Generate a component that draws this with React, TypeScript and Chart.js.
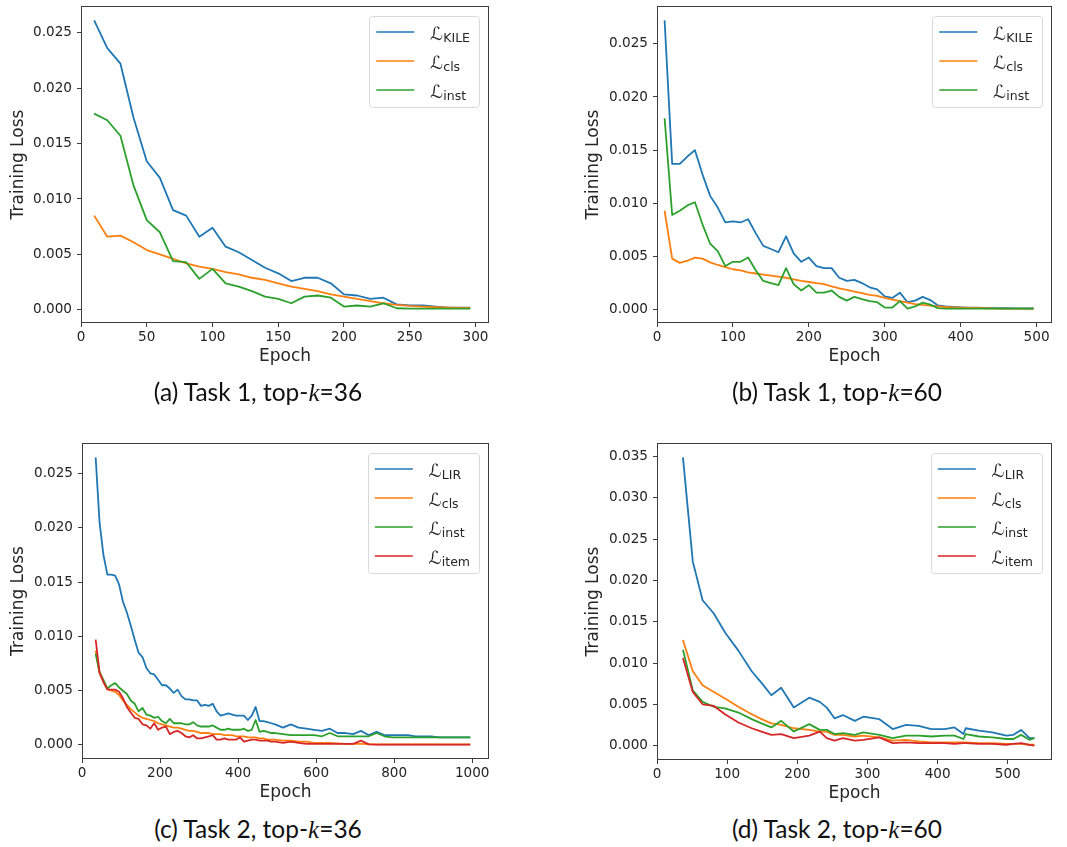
import React, { useEffect, useRef } from 'react';
import { Chart, registerables } from 'chart.js';

Chart.register(...registerables);

// ---------------- data ----------------
const A_EPOCHS = [10, 20, 30, 40, 50, 60, 70, 80, 90, 100, 110, 120, 130, 140, 150, 160, 170, 180, 190, 200, 210, 220, 230, 240, 250, 260, 270, 280, 290, 296];
const A_KILE = [0.0261, 0.0236, 0.0222, 0.0173, 0.0134, 0.0119, 0.0090, 0.0085, 0.0066, 0.0074, 0.0057, 0.0052, 0.0045, 0.0038, 0.0033, 0.0026, 0.0029, 0.0029, 0.0024, 0.0014, 0.0013, 0.0010, 0.0011, 0.0005, 0.0004, 0.0004, 0.0003, 0.0002, 0.0002, 0.0002];
const A_CLS = [0.0085, 0.0066, 0.0067, 0.0061, 0.0054, 0.0050, 0.0046, 0.0042, 0.0039, 0.0037, 0.0034, 0.0032, 0.0029, 0.0027, 0.0024, 0.0021, 0.0019, 0.0017, 0.0014, 0.0012, 0.0010, 0.0008, 0.0006, 0.00045, 0.00036, 0.0003, 0.00024, 0.0002, 0.00018, 0.00018];
const A_INST = [0.0177, 0.0171, 0.0157, 0.0112, 0.0081, 0.0070, 0.0044, 0.0043, 0.0028, 0.0037, 0.0024, 0.0021, 0.0017, 0.0012, 0.0010, 0.0006, 0.0012, 0.0013, 0.0011, 0.0003, 0.0004, 0.0003, 0.0006, 0.00015, 0.00012, 0.00012, 0.00012, 0.00012, 0.00012, 0.00012];

const B_EPOCHS = [10, 20, 30, 40, 50, 60, 70, 80, 90, 100, 110, 120, 130, 140, 150, 160, 170, 180, 190, 200, 210, 220, 230, 240, 250, 260, 270, 280, 290, 300, 310, 320, 330, 340, 350, 360, 370, 380, 390, 400, 410, 420, 430, 440, 450, 460, 470, 480, 490, 496];
const B_KILE = [0.0272, 0.0137, 0.0137, 0.0144, 0.0150, 0.0127, 0.0107, 0.0096, 0.0082, 0.0083, 0.0082, 0.0085, 0.0072, 0.0060, 0.0057, 0.0054, 0.0069, 0.0053, 0.0045, 0.0049, 0.0041, 0.0039, 0.0039, 0.0030, 0.0027, 0.0028, 0.0025, 0.0021, 0.0019, 0.00125, 0.0011, 0.0016, 0.0007, 0.00085, 0.0012, 0.0009, 0.0004, 0.0003, 0.00025, 0.00022, 0.0002, 0.00018, 0.00016, 0.00015, 0.00014, 0.00013, 0.00012, 0.00012, 0.00011, 0.00011];
const B_CLS = [0.0093, 0.0048, 0.0044, 0.0046, 0.0049, 0.0048, 0.00445, 0.0042, 0.0040, 0.0038, 0.0037, 0.0035, 0.0034, 0.0033, 0.0032, 0.0031, 0.0030, 0.00285, 0.0027, 0.0026, 0.0025, 0.0024, 0.0022, 0.0020, 0.00185, 0.0017, 0.00155, 0.0014, 0.0013, 0.0011, 0.00095, 0.0008, 0.00066, 0.00053, 0.00044, 0.00038, 0.00031, 0.00025, 0.00022, 0.00019, 0.00017, 0.00016, 0.00014, 0.00012, 0.0001, 0.0001, 0.0001, 0.0001, 0.0001, 0.0001];
const B_INST = [0.0180, 0.0089, 0.0093, 0.0098, 0.0101, 0.0080, 0.0062, 0.0055, 0.0041, 0.0045, 0.0045, 0.0049, 0.0037, 0.0027, 0.0025, 0.0023, 0.0039, 0.0024, 0.0018, 0.0023, 0.0016, 0.0016, 0.0018, 0.0012, 0.00085, 0.0012, 0.0010, 0.0008, 0.0007, 0.0002, 0.0002, 0.0008, 0.0001, 0.0003, 0.00066, 0.00047, 0.00015, 0.0001, 0.0001, 0.0001, 0.0001, 0.0001, 0.0001, 0.0001, 0.0001, 0.0001, 0.0001, 0.0001, 0.0001, 0.0001];

const C_EPOCHS = [35, 45, 55, 65, 75, 85, 95, 105, 115, 125, 135, 145, 155, 165, 175, 185, 195, 205, 215, 225, 235, 245, 255, 265, 275, 285, 295, 305, 315, 325, 335, 345, 355, 365, 375, 385, 395, 405, 415, 425, 435, 445, 455, 465, 475, 485, 495, 515, 535, 555, 575, 595, 615, 635, 655, 675, 695, 715, 735, 755, 775, 795, 815, 835, 855, 875, 895, 915, 935, 955, 975, 995];
const C_LIR = [0.0265, 0.0205, 0.0175, 0.0157, 0.0157, 0.0156, 0.0148, 0.0132, 0.0122, 0.0110, 0.0097, 0.0085, 0.0081, 0.0071, 0.0066, 0.0065, 0.0060, 0.0055, 0.0055, 0.0052, 0.0048, 0.0051, 0.0045, 0.0042, 0.0042, 0.0041, 0.0041, 0.0036, 0.0037, 0.0036, 0.0038, 0.0031, 0.0027, 0.0028, 0.0029, 0.0028, 0.0027, 0.0027, 0.0027, 0.0023, 0.0027, 0.0035, 0.0022, 0.0022, 0.0021, 0.0020, 0.0019,
  0.0016, 0.0019, 0.0016, 0.0015, 0.0014, 0.0013, 0.0015, 0.0011, 0.0011, 0.0010, 0.0013, 0.0009, 0.0012, 0.0009, 0.0009, 0.0009, 0.0009, 0.0008, 0.0008, 0.0008, 0.0007, 0.0007, 0.0007, 0.0007, 0.0007];
const C_CLS = [0.0087, 0.0066, 0.0058, 0.0052, 0.0050, 0.0049, 0.0046, 0.0041, 0.0037, 0.0033, 0.0030, 0.0027, 0.0025, 0.0024, 0.0023, 0.0022, 0.0020, 0.0019, 0.0018, 0.0017, 0.0016, 0.0016, 0.0015, 0.0014, 0.0013, 0.0013, 0.0012, 0.0011, 0.0011, 0.0011, 0.0010, 0.0010, 0.0010, 0.0009, 0.0009, 0.0009, 0.0008, 0.0008, 0.0008, 0.0007, 0.0007, 0.0007, 0.0006, 0.0006, 0.0005, 0.0005, 0.0005,
  0.0004, 0.0004, 0.0003, 0.0003, 0.0002, 0.0002, 0.0002, 0.00015, 0.0001, 0.0001, 0.0001, 0.00008, 0.00006, 0.00005, 0.00005, 0.00005, 0.00005, 0.00005, 0.00005, 0.00005, 0.00005, 0.00005, 0.00005, 0.00005, 0.00005];
const C_INST = [0.0084, 0.0067, 0.0060, 0.0052, 0.0055, 0.0057, 0.0053, 0.0050, 0.0047, 0.0041, 0.0038, 0.0031, 0.0034, 0.0028, 0.0027, 0.0025, 0.0026, 0.0022, 0.0020, 0.0024, 0.0020, 0.0020, 0.0020, 0.0019, 0.0019, 0.0021, 0.0018, 0.0017, 0.0017, 0.0017, 0.0018, 0.0016, 0.0014, 0.0014, 0.0015, 0.0014, 0.0014, 0.0014, 0.0015, 0.0013, 0.0014, 0.0023, 0.0012, 0.0013, 0.0012, 0.0011, 0.0011,
  0.0010, 0.0009, 0.0009, 0.0009, 0.0009, 0.0008, 0.0011, 0.0008, 0.0008, 0.0008, 0.0008, 0.0008, 0.0011, 0.0008, 0.0007, 0.0007, 0.0007, 0.0007, 0.0007, 0.0007, 0.0007, 0.0007, 0.0007, 0.0007, 0.0007];
const C_ITEM = [0.0097, 0.0067, 0.0058, 0.0051, 0.0051, 0.0051, 0.0049, 0.0043, 0.0035, 0.0030, 0.0025, 0.0024, 0.0019, 0.0018, 0.0015, 0.0020, 0.0014, 0.0016, 0.0017, 0.0010, 0.0012, 0.0013, 0.0011, 0.0008, 0.0007, 0.0009, 0.0006, 0.0006, 0.0007, 0.0008, 0.0009, 0.0005, 0.0005, 0.0006, 0.0005, 0.0005, 0.0005, 0.0007, 0.0003, 0.0004, 0.0005, 0.0005, 0.0004, 0.0004, 0.0004, 0.0003, 0.0003,
  0.0002, 0.0003, 0.0002, 0.0001, 0.0001, 0.0001, 0.0001, 0.0001, 0.0001, 0.0001, 0.0004, 0.00005, 0.00003, 0.00003, 0.00003, 0.00003, 0.00003, 0.00003, 0.00003, 0.00003, 0.00003, 0.00003, 0.00003, 0.00003, 0.00003];

const D_EPOCHS = [37, 51, 65, 81, 97, 116, 135, 149, 163, 177, 195, 217, 232, 242, 253, 265, 282, 294, 317, 336, 355, 373, 391, 410, 424, 437, 440, 459, 478, 498, 508, 519, 531, 538];
const D_LIR = [0.0349, 0.0223, 0.0176, 0.0160, 0.0137, 0.0115, 0.0090, 0.0076, 0.0061, 0.0070, 0.0046, 0.0058, 0.0053, 0.0046, 0.0033, 0.0037, 0.0030, 0.0035, 0.0032, 0.0020, 0.0025, 0.0024, 0.0020, 0.0020, 0.0022, 0.0014, 0.0021, 0.0018, 0.0016, 0.0012, 0.0013, 0.0019, 0.0009, 0.0009];
const D_CLS = [0.0128, 0.0090, 0.0073, 0.0065, 0.0057, 0.0047, 0.0038, 0.0032, 0.0027, 0.0025, 0.0021, 0.0019, 0.0017, 0.0017, 0.0013, 0.0013, 0.0011, 0.0012, 0.0010, 0.0006, 0.0007, 0.0005, 0.0004, 0.0004, 0.0004, 0.0004, 0.0004, 0.0003, 0.0003, 0.0002, 0.0002, 0.0002, 0.0001, 0.0001];
const D_INST = [0.0116, 0.0067, 0.0053, 0.0047, 0.0045, 0.0040, 0.0032, 0.0027, 0.0022, 0.0030, 0.0017, 0.0026, 0.0019, 0.0019, 0.0014, 0.0015, 0.0013, 0.0016, 0.0013, 0.0009, 0.0012, 0.0012, 0.0011, 0.0012, 0.0012, 0.0008, 0.0014, 0.0011, 0.0010, 0.0008, 0.0008, 0.0013, 0.0007, 0.0009];
const D_ITEM = [0.0106, 0.0065, 0.0050, 0.0048, 0.0038, 0.0028, 0.0021, 0.0017, 0.0013, 0.0014, 0.0009, 0.0012, 0.0017, 0.0009, 0.0006, 0.0009, 0.0006, 0.0007, 0.0010, 0.0003, 0.0004, 0.0003, 0.0003, 0.0003, 0.0002, 0.0003, 0.0003, 0.0002, 0.0002, 0.0001, 0.0002, 0.0003, 0.0001, 0.0000];

const LABELS_T1 = ['KILE', 'cls', 'inst'];
const LABELS_T2 = ['LIR', 'cls', 'inst', 'item'];

const X_TICKS_A = [0, 50, 100, 150, 200, 250, 300];
const X_TICKS_B = [0, 100, 200, 300, 400, 500];
const X_TICKS_C = [0, 200, 400, 600, 800, 1000];
const X_TICKS_D = [0, 100, 200, 300, 400, 500];
const Y_TICKS_ABC = [0, 0.005, 0.01, 0.015, 0.02, 0.025];
const Y_TICKS_D = [0, 0.005, 0.01, 0.015, 0.02, 0.025, 0.03, 0.035];

// ---------------- styling / layout ----------------
const COLORS = ['#1f77b4', '#ff7f0e', '#2ca02c', '#d62728'];
const TEXT = '#262626';
const AXIS = '#3c3c3c';
const TICK_FONT = { family: '"DejaVu Sans"', size: 13.6 };
const TITLE_SIZE = 17;
const TITLE_LH = TITLE_SIZE * 1.2;

type Geom = { x: number; y: number; w: number; h: number; left: number; right: number; top: number; bottom: number; yTitleX: number; xTitleY: number };

type Spec = {
  epochs: number[];
  series: number[][];
  labels: string[];
  xTicks: number[];
  yTicks: number[];
  geom: Geom;
};

const SPECS: Spec[] = [
  { epochs: A_EPOCHS, series: [A_KILE, A_CLS, A_INST], labels: LABELS_T1, xTicks: X_TICKS_A, yTicks: Y_TICKS_ABC,
    geom: { x: 0, y: 0, w: 533, h: 380, left: 81, right: 489, top: 6, bottom: 323, yTitleX: 18.5, xTitleY: 356.5 } },
  { epochs: B_EPOCHS, series: [B_KILE, B_CLS, B_INST], labels: LABELS_T1, xTicks: X_TICKS_B, yTicks: Y_TICKS_ABC,
    geom: { x: 533, y: 0, w: 534, h: 380, left: 124, right: 519, top: 6, bottom: 323, yTitleX: 60.5, xTitleY: 356.5 } },
  { epochs: C_EPOCHS, series: [C_LIR, C_CLS, C_INST, C_ITEM], labels: LABELS_T2, xTicks: X_TICKS_C, yTicks: Y_TICKS_ABC,
    geom: { x: 0, y: 430, w: 533, h: 380, left: 82, right: 489, top: 13, bottom: 329, yTitleX: 18.5, xTitleY: 363 } },
  { epochs: D_EPOCHS, series: [D_LIR, D_CLS, D_INST, D_ITEM], labels: LABELS_T2, xTicks: X_TICKS_D, yTicks: Y_TICKS_D,
    geom: { x: 533, y: 430, w: 534, h: 380, left: 124, right: 519, top: 13, bottom: 330, yTitleX: 60.5, xTitleY: 364 } },
];

const CAPTIONS = [
  { tag: '(a) Task 1, top-', k: '36', cx: 258, cy: 392 },
  { tag: '(b) Task 1, top-', k: '60', cx: 837, cy: 392 },
  { tag: '(c) Task 2, top-', k: '36', cx: 258, cy: 829 },
  { tag: '(d) Task 2, top-', k: '60', cx: 837, cy: 829 },
];

const framePlugin = {
  id: 'mplFrameLegend',
  afterDraw(chart: any) {
    const { ctx, chartArea } = chart;
    ctx.save();
    // full box spines
    ctx.strokeStyle = AXIS;
    ctx.lineWidth = 1;
    const l = Math.round(chartArea.left) + 0.5;
    const t = Math.round(chartArea.top) + 0.5;
    const r = Math.round(chartArea.right) - 0.5;
    const b = Math.round(chartArea.bottom) - 0.5;
    ctx.strokeRect(l, t, r - l, b - t);

    // legend (matplotlib-style, upper right)
    const ds = chart.data.datasets;
    const n = ds.length;
    const bigFont = '18px "DejaVu Sans"';
    const subFont = '12.5px "DejaVu Sans"';
    ctx.font = bigFont;
    const wL = ctx.measureText('\u2112').width;
    ctx.font = subFont;
    let maxSub = 0;
    ds.forEach((d: any) => { maxSub = Math.max(maxSub, ctx.measureText(d.label).width); });
    const boxW = 61 + wL + maxSub + 9;
    const boxH = 16 + 29 * (n - 1) + 17;
    const bx = chartArea.right - 10 - boxW;
    const by = chartArea.top + 10;
    ctx.beginPath();
    ctx.roundRect(Math.round(bx) + 0.5, Math.round(by) + 0.5, Math.round(boxW), Math.round(boxH), 3);
    ctx.fillStyle = 'rgba(255,255,255,0.8)';
    ctx.fill();
    ctx.strokeStyle = '#d9d9d9';
    ctx.stroke();
    ds.forEach((d: any, i: number) => {
      const cy = by + 16 + 29 * i;
      ctx.beginPath();
      ctx.strokeStyle = d.borderColor;
      ctx.lineWidth = 1.7;
      ctx.moveTo(bx + 7, cy);
      ctx.lineTo(bx + 45, cy);
      ctx.stroke();
      ctx.fillStyle = TEXT;
      ctx.textBaseline = 'alphabetic';
      ctx.textAlign = 'left';
      ctx.font = bigFont;
      ctx.fillText('\u2112', bx + 61, cy + 7.5);
      ctx.font = subFont;
      ctx.fillText(d.label, bx + 61 + wL, cy + 9.5);
    });
    ctx.restore();
  },
};

function LossChart({ spec }: { spec: Spec }) {
  const ref = useRef<HTMLCanvasElement>(null);
  const g = spec.geom;
  useEffect(() => {
    if (!ref.current) return;
    const all = spec.series.flat();
    const lo = Math.min(...all);
    const hi = Math.max(...all);
    const yPad = (hi - lo) * 0.05;
    const e0 = spec.epochs[0];
    const e1 = spec.epochs[spec.epochs.length - 1];
    const padLeft = g.yTitleX - TITLE_LH / 2;
    const n = spec.series.length;
    const zeroPad = (s: any) => { s.paddingTop = 0; s.paddingBottom = 0; s.paddingLeft = 0; s.paddingRight = 0; };
    const chart = new Chart(ref.current, {
      type: 'line',
      data: {
        datasets: spec.series.map((vals, i) => ({
          label: spec.labels[i],
          data: spec.epochs.map((x, j) => ({ x, y: vals[j] })),
          borderColor: COLORS[i],
          backgroundColor: COLORS[i],
          borderWidth: 1.8,
          pointRadius: 0,
          tension: 0,
          fill: false,
          order: n - i,
          borderJoinStyle: 'round',
        })),
      },
      options: {
        animation: false,
        responsive: false,
        maintainAspectRatio: false,
        layout: { padding: { left: padLeft, top: g.top, right: g.w - g.right, bottom: 0 } },
        plugins: { legend: { display: false }, tooltip: { enabled: false } },
        scales: {
          x: {
            type: 'linear',
            min: 0,
            max: e1 + (e1 - e0) * 0.05,
            afterBuildTicks: (s: any) => { s.ticks = spec.xTicks.map((v) => ({ value: v })); },
            afterFit: (s: any) => { s.height = g.h - g.bottom; zeroPad(s); },
            grid: { display: true, drawOnChartArea: false, drawTicks: true, tickLength: 4, tickColor: AXIS, tickWidth: 1 },
            border: { display: false },
            ticks: { font: TICK_FONT, color: TEXT, padding: 2, maxRotation: 0, autoSkip: false, callback: (v: any) => String(v) },
            title: { display: true, text: 'Epoch', font: { family: '"DejaVu Sans"', size: TITLE_SIZE }, color: TEXT,
              padding: { top: 0, bottom: g.h - g.xTitleY - TITLE_LH / 2 } },
          },
          y: {
            type: 'linear',
            min: lo - yPad,
            max: hi + yPad,
            afterBuildTicks: (s: any) => { s.ticks = spec.yTicks.map((v) => ({ value: v })); },
            afterFit: (s: any) => { s.width = g.left - padLeft; zeroPad(s); },
            grid: { display: true, drawOnChartArea: false, drawTicks: true, tickLength: 4, tickColor: AXIS, tickWidth: 1 },
            border: { display: false },
            ticks: { font: TICK_FONT, color: TEXT, padding: 5, autoSkip: false, callback: (v: any) => Number(v).toFixed(3) },
            title: { display: true, text: 'Training Loss', font: { family: '"DejaVu Sans"', size: TITLE_SIZE }, color: TEXT,
              padding: { top: 0, bottom: 0 } },
          },
        },
      } as any,
      plugins: [framePlugin],
    });
    return () => chart.destroy();
  }, [spec]);
  return (
    <canvas
      ref={ref}
      width={g.w}
      height={g.h}
      style={{ position: 'absolute', left: g.x, top: g.y, width: g.w, height: g.h }}
    />
  );
}

export default function App() {
  return (
    <div style={{ position: 'absolute', left: 0, top: 0, width: 1067, height: 847, background: '#fff', overflow: 'hidden' }}>
      {SPECS.map((s, i) => <LossChart key={i} spec={s} />)}
      {CAPTIONS.map((c, i) => (
        <div
          key={i}
          style={{
            position: 'absolute', left: c.cx - 200, top: c.cy - 16, width: 400, height: 32, lineHeight: '32px',
            textAlign: 'center', fontFamily: 'Lato, "Open Sans", sans-serif', fontSize: 24.5, color: '#111', whiteSpace: 'nowrap',
          }}
        >
          {c.tag}<i style={{ fontFamily: '"Liberation Serif", serif', fontSize: 25 }}>k</i>={c.k}
        </div>
      ))}
    </div>
  );
}
